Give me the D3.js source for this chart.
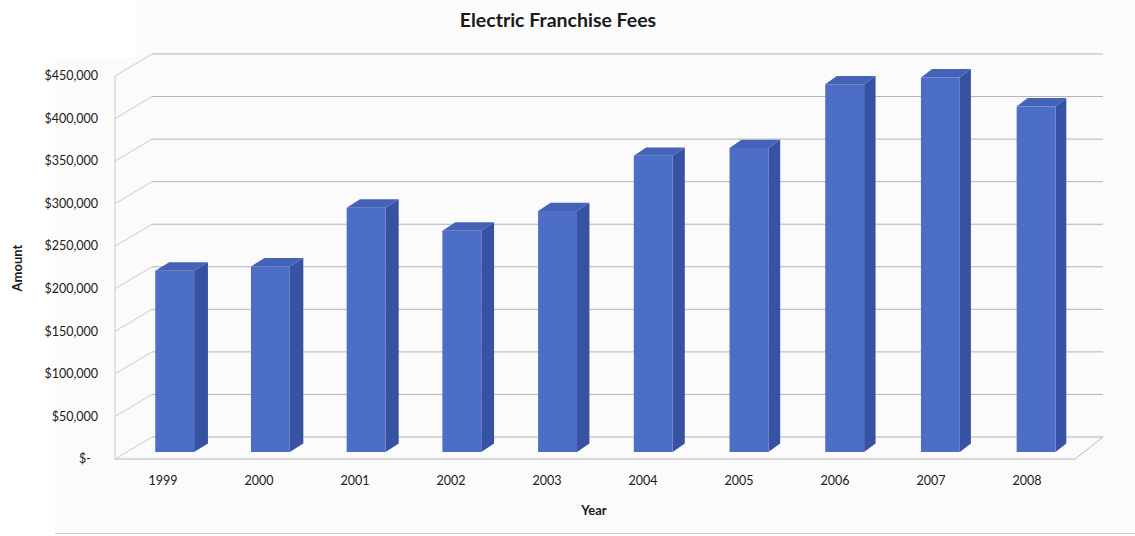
<!DOCTYPE html>
<html>
<head>
<meta charset="utf-8">
<script src="https://cdn.jsdelivr.net/npm/d3@7/dist/d3.min.js"></script>
<style>
  html, body { margin: 0; padding: 0; background: #ffffff; }
  svg { display: block; }
  text { font-family: Lato, "Open Sans", sans-serif; }
</style>
</head>
<body>
<svg id="chart" width="1135" height="536"></svg>
<script>
const years = ["1999", "2000", "2001", "2002", "2003", "2004", "2005", "2006", "2007", "2008"];
const amounts = [213000, 218000, 287000, 260000, 283000, 348000, 357000, 432000, 440000, 406000];
const tickValues = [0, 50000, 100000, 150000, 200000, 250000, 300000, 350000, 400000, 450000];
const tickLabels = ["$-", "$50,000", "$100,000", "$150,000", "$200,000", "$250,000", "$300,000", "$350,000", "$400,000", "$450,000"];
const titleText = "Electric Franchise Fees";
const yTitle = "Amount";
const xTitle = "Year";

const svg = d3.select("#chart");
const W = 1135, H = 536;

// background
svg.append("rect").attr("x", 0).attr("y", 0).attr("width", W).attr("height", H).attr("fill", "#ffffff");
svg.append("rect").attr("x", 55).attr("y", 0).attr("width", W - 55).attr("height", 533).attr("fill", "#fbfbfc");
svg.append("rect").attr("x", 0).attr("y", 0).attr("width", 137).attr("height", 58).attr("fill", "#ffffff");
svg.append("line").attr("x1", 55).attr("x2", W).attr("y1", 533.5).attr("y2", 533.5)
  .attr("stroke", "#cfcfcf").attr("stroke-width", 1);

const x = d3.scaleBand().domain(years).range([115, 1075]).paddingInner(0).paddingOuter(0);
const y = d3.scaleLinear().domain([0, 450000]).range([459, 76]);

// oblique projection with mild perspective
const DY = -22;
function DX(xf) { return 37 - 9 * (xf - 115) / 960; }
function P(xf, yf, d) { return [xf + d * DX(xf), yf + d * DY]; }

const grid = svg.append("g");
tickValues.forEach(v => {
  const a = P(115, y(v), 1), b = P(1075, y(v), 1);
  grid.append("line").attr("x1", a[0]).attr("y1", a[1]).attr("x2", b[0]).attr("y2", b[1])
    .attr("stroke", "#b2b2ba").attr("stroke-width", 1);
  const c = P(115, y(v), 0);
  grid.append("line").attr("x1", c[0]).attr("y1", c[1]).attr("x2", a[0]).attr("y2", a[1])
    .attr("stroke", "#cacad0").attr("stroke-width", 1);
});
grid.append("line").attr("x1", 115).attr("x2", 115).attr("y1", y(0)).attr("y2", y(450000))
  .attr("stroke", "#cacad0").attr("stroke-width", 1);
const f0 = P(115, y(0), 0), f1 = P(1075, y(0), 0), f2 = P(1075, y(0), 1);
grid.append("path").attr("d", `M${f0[0]},${f0[1]}L${f1[0]},${f1[1]}L${f2[0]},${f2[1]}`)
  .attr("fill", "none").attr("stroke", "#b8b8bf").attr("stroke-width", 1);

// bars
const d1 = 0.32, d2 = 0.70, halfW = 19.5;
const bars = svg.append("g");
years.forEach((yr, i) => {
  const xc = x(yr) + x.bandwidth() / 2;
  const xl = xc - halfW, xr = xc + halfW;
  const yb = y(0), yt = y(amounts[i]);
  const poly = pts => pts.map(p => p.join(",")).join(" ");
  bars.append("polygon")
    .attr("points", poly([P(xr, yb, d1), P(xr, yt, d1), P(xr, yt, d2), P(xr, yb, d2)]))
    .attr("fill", "#3752a2");
  bars.append("polygon")
    .attr("points", poly([P(xl, yt, d1), P(xr, yt, d1), P(xr, yt, d2), P(xl, yt, d2)]))
    .attr("fill", "#4462b6");
  bars.append("polygon")
    .attr("points", poly([P(xl, yb, d1), P(xr, yb, d1), P(xr, yt, d1), P(xl, yt, d1)]))
    .attr("fill", "#4d6ec6");
});

// y-axis labels
const yl = svg.append("g");
tickValues.forEach((v, i) => {
  yl.append("text")
    .attr("x", tickLabels[i] === "$-" ? 91 : 98)
    .attr("y", y(v) + 1)
    .attr("dominant-baseline", "middle")
    .attr("text-anchor", "end")
    .attr("font-size", 12.5)
    .attr("fill", "#1a1a1a")
    .text(tickLabels[i]);
});

// x-axis labels
const xl = svg.append("g");
years.forEach(yr => {
  xl.append("text")
    .attr("x", x(yr) + x.bandwidth() / 2)
    .attr("y", 482)
    .attr("dominant-baseline", "middle")
    .attr("text-anchor", "middle")
    .attr("font-size", 12.5)
    .attr("fill", "#1a1a1a")
    .text(yr);
});

// titles
svg.append("text").attr("x", 558).attr("y", 27).attr("text-anchor", "middle")
  .attr("font-size", 19.5).attr("font-weight", "bold").attr("fill", "#1a1a1a").text(titleText);
svg.append("text").attr("transform", "translate(22,268) rotate(-90)").attr("text-anchor", "middle")
  .attr("font-size", 13).attr("font-weight", "bold").attr("fill", "#1a1a1a").text(yTitle);
svg.append("text").attr("x", 594).attr("y", 515).attr("text-anchor", "middle")
  .attr("font-size", 13).attr("font-weight", "bold").attr("fill", "#1a1a1a").text(xTitle);
</script>
</body>
</html>
